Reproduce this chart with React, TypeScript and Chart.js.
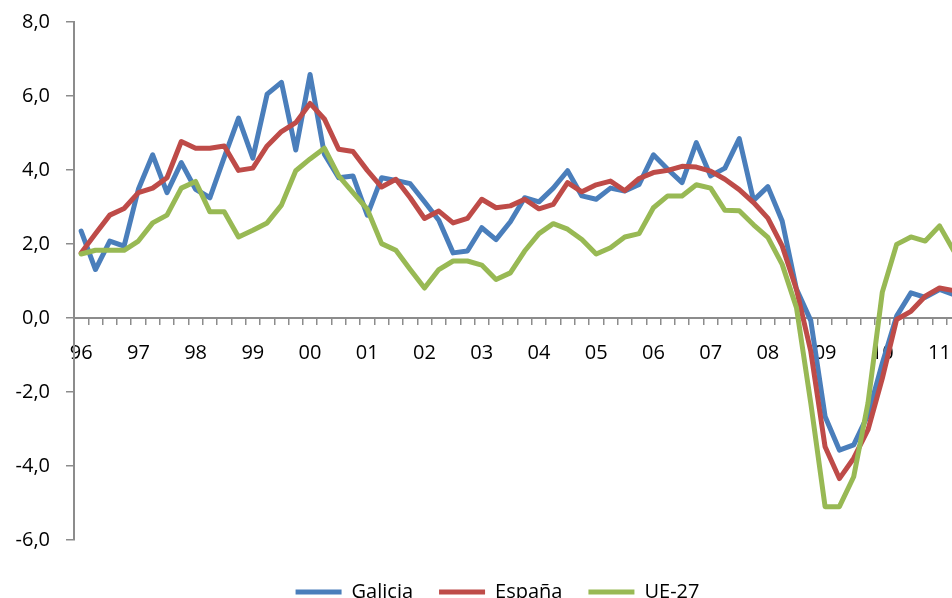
import React, { useEffect, useRef } from 'react';
import { Chart, registerables } from 'chart.js';

Chart.register(...registerables);

const years = ['96', '97', '98', '99', '00', '01', '02', '03', '04', '05', '06', '07', '08', '09', '10', '11'];

// quarterly categories (1996 Q1 .. 2011 Q2); the year label sits on Q1
const quarters: string[] = [];
for (let i = 0; i < 62; i++) quarters.push(i % 4 === 0 ? years[i / 4] : '');

const galicia = [
  2.35, 1.31, 2.08, 1.94, 3.48, 4.41, 3.39, 4.20, 3.48, 3.25, 4.34, 5.40, 4.32, 6.05, 6.37, 4.54,
  6.58, 4.43, 3.79, 3.84, 2.78, 3.79, 3.72, 3.63, 3.14, 2.64, 1.76, 1.81, 2.44, 2.12, 2.60, 3.25,
  3.14, 3.51, 3.98, 3.30, 3.21, 3.51, 3.43, 3.61, 4.41, 4.02, 3.66, 4.74, 3.84, 4.05, 4.85, 3.18,
  3.55, 2.62, 0.78, -0.07, -2.66, -3.57, -3.43, -2.62, -1.22, 0.05, 0.68, 0.56, 0.77, 0.63,
];

const espana = [
  1.76, 2.28, 2.78, 2.96, 3.39, 3.51, 3.79, 4.77, 4.59, 4.59, 4.65, 3.99, 4.05, 4.65, 5.04, 5.28,
  5.80, 5.38, 4.56, 4.50, 3.99, 3.54, 3.75, 3.25, 2.69, 2.89, 2.57, 2.69, 3.21, 2.98, 3.03, 3.21,
  2.95, 3.07, 3.66, 3.41, 3.60, 3.70, 3.44, 3.77, 3.93, 3.99, 4.10, 4.08, 3.97, 3.75, 3.47, 3.12,
  2.70, 1.95, 0.77, -0.90, -3.48, -4.34, -3.79, -3.02, -1.63, -0.04, 0.18, 0.59, 0.81, 0.74,
];

const ue27 = [
  1.73, 1.83, 1.83, 1.83, 2.08, 2.57, 2.78, 3.51, 3.69, 2.87, 2.87, 2.19, 2.37, 2.57, 3.05, 3.98,
  4.30, 4.59, 3.84, 3.39, 2.94, 2.01, 1.83, 1.31, 0.81, 1.31, 1.54, 1.54, 1.43, 1.04, 1.22, 1.81,
  2.28, 2.55, 2.40, 2.12, 1.73, 1.90, 2.19, 2.28, 2.98, 3.30, 3.30, 3.60, 3.51, 2.91, 2.90, 2.52,
  2.18, 1.45, 0.28, -2.30, -5.10, -5.10, -4.29, -2.30, 0.70, 1.99, 2.19, 2.08, 2.49, 1.81,
];

const yMin = -6;
const yMax = 8;
const yStep = 2;

const FONT = "'Open Sans', 'DejaVu Sans', sans-serif";
const AXIS = '#8c8c8c';

// moves the legend block to where the reference has it, and makes the
// x tick labels (axis crossing at y = 0) use the final y scale position
const layoutFix = {
  id: 'layoutFix',
  afterLayout(chart: any) {
    const l = chart.legend;
    if (!l) return;
    l.left += 17;
    l.right += 17;
    l.top += 16;
    l.bottom += 16;
  },
  beforeDraw(chart: any) {
    const x = chart.scales.x;
    if (x) x._labelItems = null;
  },
};

export default function App() {
  const ref = useRef<HTMLCanvasElement | null>(null);

  useEffect(() => {
    if (!ref.current) return;
    const chart = new Chart(ref.current, {
      type: 'line',
      data: {
        labels: quarters,
        datasets: [
          { label: 'Galicia', data: galicia, borderColor: '#4a7ebb', backgroundColor: '#4a7ebb', order: 2 },
          { label: 'España', data: espana, borderColor: '#be4b48', backgroundColor: '#be4b48', order: 1 },
          { label: 'UE-27', data: ue27, borderColor: '#98b954', backgroundColor: '#98b954', order: 0 },
        ].map((d) => ({
          ...d,
          borderWidth: 5,
          pointRadius: 0,
          pointHoverRadius: 0,
          tension: 0,
          borderJoinStyle: 'round' as const,
          borderCapStyle: 'round' as const,
        })),
      },
      plugins: [layoutFix],
      options: {
        responsive: false,
        animation: false,
        layout: { padding: { top: 22, left: 0, right: 0, bottom: 16 } },
        plugins: {
          tooltip: { enabled: false },
          legend: {
            position: 'bottom',
            labels: {
              usePointStyle: true,
              pointStyle: 'line',
              pointStyleWidth: 46,
              padding: 26,
              color: '#000',
              font: { family: FONT, size: 20 },
              sort: (a: any, b: any) => a.datasetIndex - b.datasetIndex,
            },
          },
        },
        scales: {
          x: {
            type: 'category',
            position: { y: 0 } as any,
            offset: true,
            grid: {
              offset: true,
              drawOnChartArea: false,
              drawTicks: true,
              tickLength: 6,
              color: AXIS,
              lineWidth: 1.5,
            },
            border: { color: AXIS, width: 2 },
            ticks: {
              autoSkip: false,
              maxRotation: 0,
              minRotation: 0,
              padding: 28.5,
              color: '#000',
              font: { family: FONT, size: 20, lineHeight: 0.1 },
            },
            afterFit: (scale: any) => {
              scale.paddingLeft = 0;
              scale.paddingRight = 0;
            },
          },
          y: {
            type: 'linear',
            position: 'left',
            min: yMin,
            max: yMax,
            grid: {
              drawOnChartArea: false,
              drawTicks: true,
              tickLength: 8,
              color: AXIS,
              lineWidth: 1.5,
            },
            border: { color: AXIS, width: 2 },
            ticks: {
              stepSize: yStep,
              padding: 16,
              color: '#000',
              font: { family: FONT, size: 20 },
              callback: (v: any) => Number(v).toFixed(1).replace('.', ','),
            },
            afterFit: (scale: any) => {
              scale.width = 74;
              scale.paddingTop = 0;
              scale.paddingBottom = 0;
            },
          },
        },
      },
    });
    return () => chart.destroy();
  }, []);

  return (
    <div style={{ position: 'fixed', left: 0, top: 0, width: 952, height: 598, overflow: 'hidden', background: '#fff' }}>
      <canvas ref={ref} width={961} height={612} style={{ display: 'block', width: 961, height: 612 }} />
    </div>
  );
}
